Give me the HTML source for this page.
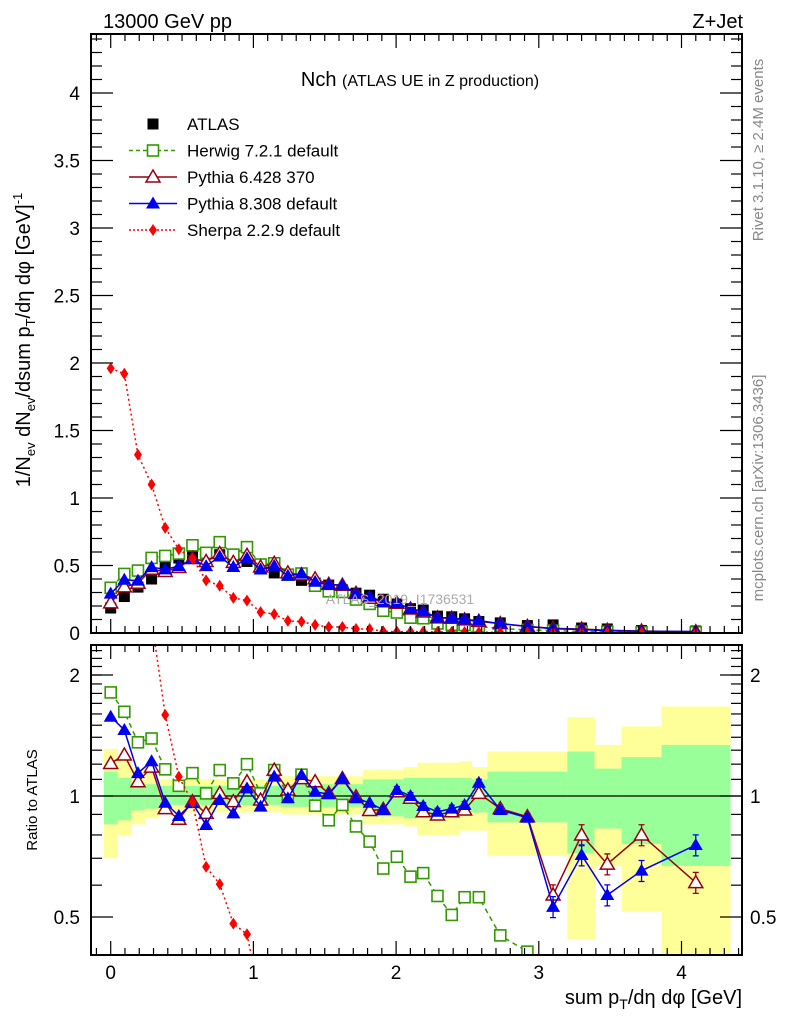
<!DOCTYPE html>
<html><head><meta charset="utf-8">
<style>
html,body{margin:0;padding:0;background:#fff;overflow:hidden;width:786px;height:1024px;}
svg{display:block;font-family:"Liberation Sans",sans-serif;}
</style></head>
<body>
<svg id="c" width="786" height="1024" viewBox="0 0 786 1024" xmlns="http://www.w3.org/2000/svg">
<defs>
<clipPath id="cpm"><rect x="91" y="34" width="651" height="599"/></clipPath>
<clipPath id="cpr"><rect x="91" y="645" width="651" height="310"/></clipPath>
</defs>
<g id="bands" clip-path="url(#cpr)"></g>
<g id="main" clip-path="url(#cpm)"></g>
<g id="ratio" clip-path="url(#cpr)"></g>
<g id="axes"></g>
<text x="103" y="28" font-size="20">13000 GeV pp</text>
<text x="743" y="28" font-size="20" text-anchor="end">Z+Jet</text>
<text x="420" y="86" font-size="20" text-anchor="middle">Nch <tspan font-size="16">(ATLAS UE in Z production)</tspan></text>
<text x="400" y="604" font-size="14" fill="#aaa" text-anchor="middle">ATLAS_2019_I1736531</text>
<text transform="translate(763,150) rotate(-90)" font-size="15" fill="#888" text-anchor="middle">Rivet 3.1.10, ≥ 2.4M events</text>
<text transform="translate(763,488) rotate(-90)" font-size="15" fill="#888" text-anchor="middle">mcplots.cern.ch [arXiv:1306.3436]</text>
<text transform="translate(30,340) rotate(-90)" font-size="20" text-anchor="middle">1/N<tspan font-size="13" dy="5">ev</tspan><tspan dy="-5"> dN</tspan><tspan font-size="13" dy="5">ev</tspan><tspan dy="-5">/dsum p</tspan><tspan font-size="13" dy="5">T</tspan><tspan dy="-5">/dη dφ  [GeV]</tspan><tspan font-size="13" dy="-8">-1</tspan></text>
<text transform="translate(37,800) rotate(-90)" font-size="15" text-anchor="middle">Ratio to ATLAS</text>
<text x="742" y="1004" font-size="20" text-anchor="end">sum p<tspan font-size="14" dy="5">T</tspan><tspan dy="-5">/dη dφ [GeV]</tspan></text>
<g id="legend"></g>
</svg>
<script>
const xs=[0,0.0955,0.191,0.2865,0.382,0.4775,0.573,0.6685,0.764,0.8595,0.955,1.0505,1.146,1.2415,1.337,1.4325,1.528,1.6235,1.719,1.8145,1.91,2.0055,2.101,2.19,2.29,2.39,2.48,2.58,2.73,2.92,3.10,3.30,3.48,3.72,4.10];
const atlas=[0.185,0.27,0.34,0.40,0.49,0.555,0.57,0.585,0.58,0.54,0.53,0.50,0.445,0.43,0.39,0.37,0.355,0.32,0.295,0.28,0.25,0.215,0.18,0.17,0.125,0.12,0.105,0.085,0.075,0.055,0.06,0.037,0.03,0.018,0.015];
const sherpa=[1.96,1.92,1.32,1.10,0.78,0.62,0.55,0.39,0.35,0.26,0.24,0.155,0.14,0.09,0.084,0.06,0.044,0.044,0.03,0.03,0.012,0.01,0.01,0.01,0.008,0.008,0.007,0.006,0.005,0.004,0.004,0.003,0.003,0.002,0.002];
const herwigR=[1.81,1.62,1.36,1.39,1.165,1.06,1.14,1.015,1.16,1.075,1.20,1.015,1.16,1.005,1.13,0.946,0.87,0.95,0.84,0.77,0.66,0.706,0.63,0.643,0.564,0.506,0.56,0.56,0.45,0.41,0.3,0.3,0.3,0.3,0.3];
const py6R=[1.205,1.265,1.085,1.18,0.93,0.875,0.968,0.905,1.015,0.968,1.085,0.977,1.16,1.035,1.105,1.085,1.015,1.105,0.996,0.92,0.926,1.025,0.987,0.914,0.897,0.914,0.923,1.015,0.93,0.888,0.567,0.80,0.677,0.80,0.609];
const py8R=[1.575,1.46,1.14,1.22,0.962,0.892,0.96,0.847,0.977,0.905,1.045,0.941,1.117,0.987,1.128,1.025,1.01,1.105,0.987,0.962,0.923,1.035,1.0,0.944,0.914,0.93,0.95,1.079,0.923,0.883,0.53,0.713,0.567,0.652,0.755];
const bandEdges=[-0.048,0.048,0.143,0.239,0.334,0.43,0.525,0.62,0.716,0.812,0.907,1.003,1.098,1.194,1.289,1.385,1.48,1.576,1.671,1.767,1.862,1.958,2.053,2.148,2.244,2.34,2.44,2.53,2.64,2.83,3.20,3.39,3.58,3.86,4.34];
const yelHi=[1.31,1.25,1.18,1.15,1.10,1.10,1.10,1.10,1.10,1.10,1.10,1.10,1.10,1.12,1.12,1.12,1.12,1.12,1.12,1.16,1.16,1.16,1.18,1.21,1.21,1.21,1.22,1.18,1.29,1.29,1.57,1.34,1.49,1.67];
const yelLo=[0.70,0.80,0.85,0.88,0.91,0.91,0.91,0.91,0.91,0.91,0.91,0.91,0.91,0.90,0.90,0.90,0.90,0.90,0.90,0.85,0.85,0.85,0.84,0.80,0.80,0.80,0.82,0.82,0.71,0.71,0.44,0.67,0.515,0.3];
const grnHi=[1.15,1.11,1.08,1.07,1.06,1.06,1.06,1.06,1.06,1.06,1.06,1.06,1.06,1.07,1.07,1.07,1.07,1.07,1.07,1.10,1.10,1.10,1.11,1.11,1.11,1.11,1.11,1.10,1.15,1.15,1.29,1.17,1.25,1.34];
const grnLo=[0.85,0.87,0.92,0.93,0.95,0.95,0.95,0.95,0.95,0.95,0.95,0.95,0.95,0.94,0.94,0.94,0.94,0.94,0.94,0.89,0.89,0.89,0.88,0.89,0.89,0.89,0.90,0.91,0.86,0.86,0.72,0.83,0.76,0.67];
const mainTicks=["0","0.5","1","1.5","2","2.5","3","3.5","4"];
const ratioTicks=["0.5","1","2"];
const xTicks=["0","1","2","3","4"];

const NS="http://www.w3.org/2000/svg";
const X=v=>110.7+v*142.7;
const YM=v=>633-v*135;
const YR=r=>796-Math.log2(r)*121;
function mk(tag,attrs,parent){const e=document.createElementNS(NS,tag);for(const k in attrs)e.setAttribute(k,attrs[k]);parent.appendChild(e);return e;}
const gM=document.getElementById('main'),gR=document.getElementById('ratio'),gB=document.getElementById('bands'),gA=document.getElementById('axes'),gL=document.getElementById('legend');

for(let i=0;i<yelHi.length;i++){
  const x0=X(bandEdges[i]),x1=X(bandEdges[i+1]);
  const y=mk('rect',{x:x0,y:YR(yelHi[i]),width:x1-x0+0.5,height:YR(yelLo[i])-YR(yelHi[i]),fill:'#ffff99'},gB);
  
  
  const g=mk('rect',{x:x0,y:YR(grnHi[i]),width:x1-x0+0.5,height:YR(grnLo[i])-YR(grnHi[i]),fill:'#99ff99'},gB);
  
  
}
const one=mk('line',{x1:91,x2:742,y1:YR(1),y2:YR(1),stroke:'#000','stroke-width':1.2},gR);



function marker(type,cx,cy,color,parent,name){
  let e;
  if(type==='sq') e=mk('rect',{x:cx-5.5,y:cy-5.5,width:11,height:11,fill:'#000'},parent);
  else if(type==='osq') e=mk('rect',{x:cx-5.5,y:cy-5.5,width:11,height:11,fill:'#fff',stroke:color,'stroke-width':1.6},parent);
  else if(type==='otri') e=mk('polygon',{points:`${cx},${cy-7} ${cx-7},${cy+5} ${cx+7},${cy+5}`,fill:'#fff',stroke:color,'stroke-width':1.5},parent);
  else if(type==='tri') e=mk('polygon',{points:`${cx},${cy-7} ${cx-7},${cy+5} ${cx+7},${cy+5}`,fill:color},parent);
  else e=mk('polygon',{points:`${cx},${cy-6} ${cx-4},${cy} ${cx},${cy+6} ${cx+4},${cy}`,fill:color},parent);
  
  
  return e;
}
const series=[
  {name:'herwig',type:'osq',color:'#339900',dash:'5,4',w:1.5},
  {name:'pythia6',type:'otri',color:'#990011',dash:'',w:1.5},
  {name:'pythia8',type:'tri',color:'#0000ee',dash:'',w:1.5},
  {name:'sherpa',type:'dia',color:'#ff0000',dash:'2,3',w:1.5}
];
const ratios={herwig:herwigR,pythia6:py6R,pythia8:py8R,sherpa:sherpa.map((v,i)=>v/atlas[i])};
const mains={herwig:herwigR.map((r,i)=>r*atlas[i]),pythia6:py6R.map((r,i)=>r*atlas[i]),pythia8:py8R.map((r,i)=>r*atlas[i]),sherpa:sherpa};

atlas.forEach((v,i)=>marker('sq',X(xs[i]),YM(v),'#000',gM,'atlas-point'));
for(const s of series){
  const mp=xs.map((x,i)=>X(x)+','+YM(mains[s.name][i])).join(' ');
  const l1=mk('polyline',{points:mp,fill:'none',stroke:s.color,'stroke-width':s.w,'stroke-dasharray':s.dash},gM);
  
  
  mains[s.name].forEach((v,i)=>marker(s.type,X(xs[i]),YM(v),s.color,gM,s.name+'-point'));
  const rp=xs.map((x,i)=>X(x)+','+YR(Math.min(Math.max(ratios[s.name][i],0.05),50))).join(' ');
  const l2=mk('polyline',{points:rp,fill:'none',stroke:s.color,'stroke-width':s.w,'stroke-dasharray':s.dash},gR);
  
  
  ratios[s.name].forEach((r,i)=>{
    const cx=X(xs[i]),cy=YR(Math.min(Math.max(r,0.05),50));
    if(i>=20&&s.name!=='sherpa'){
      const e=i>=30?0.06:0.02;
      const t=mk('path',{d:`M${cx},${YR(r*(1+e))}V${YR(r*(1-e))}M${cx-3},${YR(r*(1+e))}h6M${cx-3},${YR(r*(1-e))}h6`,stroke:s.color,'stroke-width':1.3,fill:'none'},gR);
      
      
    }
    marker(s.type,cx,cy,s.color,gR,s.name+'-ratio-point');
  });
}

function frame(y0,y1,name){const r=mk('rect',{x:91,y:y0,width:651,height:y1-y0,fill:'none',stroke:'#000','stroke-width':2},gA);}
frame(34,633,'main-frame');frame(645,955,'ratio-frame');
function tk(x1,y1,x2,y2){mk('line',{x1,y1,x2,y2,stroke:'#000','stroke-width':1.2},gA);}
function lbl(x,y,t,anchor,size,name){const e=mk('text',{x,y,'text-anchor':anchor,'font-size':size},gA);e.textContent=t;}
for(let k=-1;k<=44;k++){const v=k/10;const x=X(v);if(x<92||x>741)continue;const big=k%10===0;const L=big?14:7;
  tk(x,633,x,633-L);tk(x,34,x,34+L);tk(x,955,x,955-L);tk(x,645,x,645+L);}
xTicks.forEach(t=>lbl(X(+t),979,t,'middle',19,'x-tick-label'));
for(let k=0;k<=44;k++){const v=k/10,y=YM(v);if(y<35)continue;const big=k%5===0;const L=big?22:11;tk(91,y,91+L,y);tk(742,y,742-L,y);}
mainTicks.forEach(t=>lbl(80,YM(+t)+7,t,'end',19,'y-tick-label'));
[0.5,0.6,0.7,0.8,0.9,1,2].forEach(v=>{const y=YR(v);const big=[0.5,1,2].includes(v);const L=big?22:11;tk(91,y,91+L,y);tk(742,y,742-L,y);});
for(let v=1.1;v<2.35;v+=0.1){const y=YR(v);tk(91,y,102,y);tk(742,y,731,y);}
ratioTicks.forEach(t=>{lbl(80,YR(+t)+7,t,'end',19,'ratio-tick-label');lbl(750,YR(+t)+7,t,'start',19,'ratio-tick-label-right');});

const leg=[['ATLAS','sq','#000',''],['Herwig 7.2.1 default','osq','#339900','4,3'],['Pythia 6.428 370','otri','#990011',''],['Pythia 8.308 default','tri','#0000ee',''],['Sherpa 2.2.9 default','dia','#ff0000','2,2']];
leg.forEach((e,i)=>{const y=124+i*26.5;
  if(i>0){const l=mk('line',{x1:129,x2:177,y1:y,y2:y,stroke:e[2],'stroke-width':1.5,'stroke-dasharray':e[3]},gL);}
  marker(e[1],153,y,e[2],gL,'legend-marker');
  const t=mk('text',{x:187,y:y+6,'font-size':17},gL);t.textContent=e[0];
  
  
});
</script>
</body></html>
